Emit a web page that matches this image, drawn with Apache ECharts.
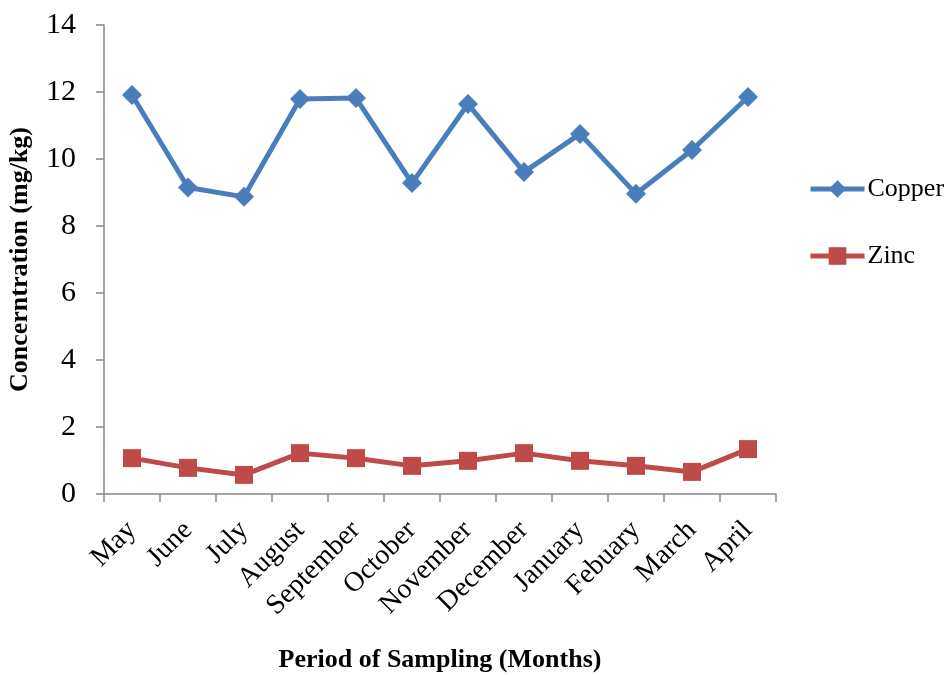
<!DOCTYPE html>
<html>
<head>
<meta charset="utf-8">
<script src="https://cdn.jsdelivr.net/npm/echarts@6/dist/echarts.min.js"></script>
<style>
  html, body { margin: 0; padding: 0; background: #fff; }
  #chart { width: 948px; height: 675px; }
</style>
</head>
<body>
<div id="chart"></div>
<script>
// Monthly sampling periods
const months = ['May', 'June', 'July', 'August', 'September', 'October',
                'November', 'December', 'January', 'Febuary', 'March', 'April'];

// Heavy metal concentrations (mg/kg)
const copper = [11.91, 9.15, 8.87, 11.79, 11.82, 9.28, 11.64, 9.61, 10.75, 8.96, 10.27, 11.85];
const zinc   = [1.07, 0.78, 0.57, 1.22, 1.07, 0.84, 0.99, 1.22, 0.99, 0.84, 0.66, 1.34];

const yTicks = { min: 0, max: 14, interval: 2 };

const serif = '"Liberation Serif", "Times New Roman", serif';
const axisGrey = '#868686';

const chart = echarts.init(document.getElementById('chart'), null, { renderer: 'canvas' });

chart.setOption({
  backgroundColor: '#ffffff',
  animation: false,
  grid: {
    left: 104, right: 172, top: 25, bottom: 181,
    containLabel: false,
    outerBoundsMode: 'none'
  },
  legend: {
    orient: 'vertical',
    left: 803,
    top: 171,
    itemWidth: 54,
    itemHeight: 22,
    itemGap: 41,
    lineStyle: { width: 5 },
    textStyle: { fontFamily: serif, fontSize: 26, color: '#000', padding: [0, 0, 0, -2] },
    data: ['Copper', 'Zinc']
  },
  xAxis: {
    type: 'category',
    data: months,
    boundaryGap: true,
    name: 'Period of Sampling (Months)',
    nameLocation: 'middle',
    nameGap: 153,
    nameMoveOverlap: false,
    nameTextStyle: { fontFamily: serif, fontSize: 26, fontWeight: 'bold', color: '#000' },
    axisLine: { lineStyle: { color: axisGrey, width: 1.5 } },
    axisTick: { show: true, length: 8, alignWithLabel: false, lineStyle: { color: axisGrey, width: 1.5 } },
    axisLabel: {
      rotate: 45,
      margin: 32,
      interval: 0,
      fontFamily: serif,
      fontSize: 28,
      color: '#000'
    },
    splitLine: { show: false }
  },
  yAxis: {
    type: 'value',
    min: yTicks.min,
    max: yTicks.max,
    interval: yTicks.interval,
    name: 'Concerntration (mg/kg)',
    nameLocation: 'middle',
    nameGap: 71,
    nameMoveOverlap: false,
    nameRotate: 90,
    nameTextStyle: { fontFamily: serif, fontSize: 26, fontWeight: 'bold', color: '#000' },
    axisLine: { show: true, lineStyle: { color: axisGrey, width: 1.5 } },
    axisTick: { show: true, length: 8, lineStyle: { color: axisGrey, width: 1.5 } },
    axisLabel: { margin: 28, fontFamily: serif, fontSize: 30, color: '#000' },
    splitLine: { show: false }
  },
  series: [
    {
      name: 'Copper',
      type: 'line',
      data: copper,
      symbol: 'diamond',
      symbolSize: 20,
      lineStyle: { color: '#4A7EBB', width: 5 },
      itemStyle: { color: '#4A7EBB' }
    },
    {
      name: 'Zinc',
      type: 'line',
      data: zinc,
      symbol: 'rect',
      symbolSize: 18,
      lineStyle: { color: '#BE4B48', width: 5 },
      itemStyle: { color: '#BE4B48' }
    }
  ]
});
</script>
</body>
</html>
